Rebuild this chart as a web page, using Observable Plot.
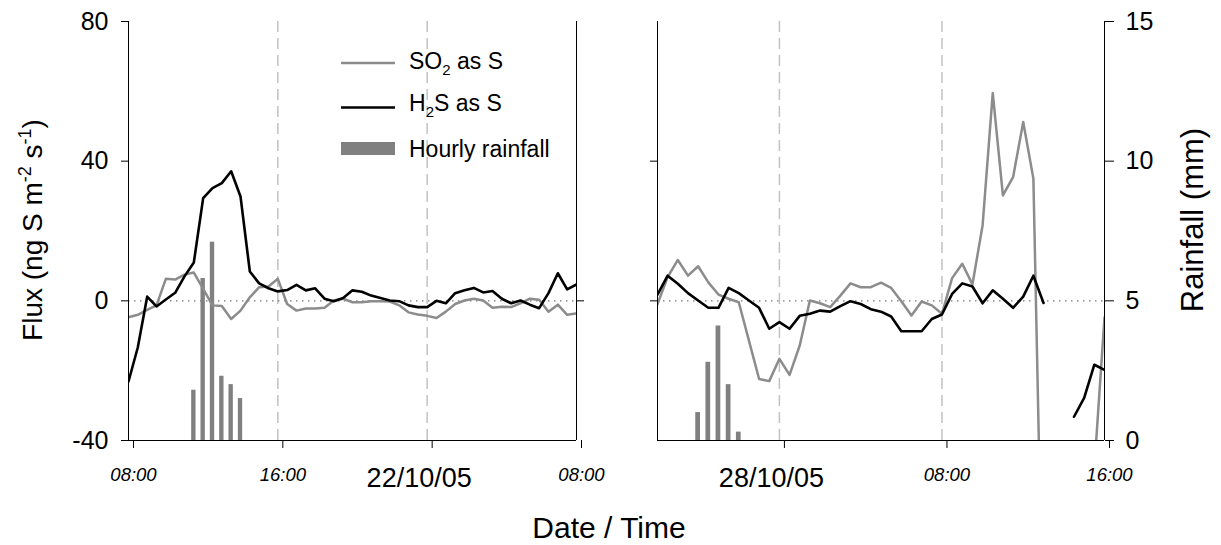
<!DOCTYPE html>
<html><head><meta charset="utf-8">
<script src="https://cdn.jsdelivr.net/npm/d3@7"></script>
<script src="https://cdn.jsdelivr.net/npm/@observablehq/plot@0.6"></script>
<style>
html,body{margin:0;padding:0;background:#fff;}
#chart{position:relative;width:1221px;height:545px;overflow:hidden;font-family:"Liberation Sans",Arial,sans-serif;}
#chart > svg{position:absolute;top:0;}
</style></head><body><div id="chart"></div>
<script>
// ---------- data (half-hourly fluxes, ng S m-2 s-1) ----------
const leftStart = "2005-10-21T08:00Z";
const so2Left = [-4.7,-4.0,-2.6,-1.3,6.3,6.1,7.5,8.1,3.4,-1.3,-1.5,-5.2,-2.8,1.0,3.9,4.1,6.3,-0.9,-2.8,-2.2,-2.2,-2.0,0.1,0.6,-0.4,-0.4,-0.1,-0.1,-0.2,-1.3,-3.3,-3.9,-4.3,-4.9,-3.1,-0.9,0.1,0.6,0.1,-2.0,-1.7,-1.8,-0.7,0.6,0.3,-3.1,-1.1,-4.0,-3.6];
const h2sLeft = [-23.1,-13.3,1.2,-1.6,0.4,2.3,7.0,11.0,29.4,32.3,33.7,37.1,29.9,8.4,5.0,3.6,2.7,3.1,4.6,3.0,3.6,0.6,-0.1,0.8,3.0,2.6,1.5,0.8,0.1,-0.1,-1.3,-1.8,-1.8,0.0,-0.7,2.2,3.0,3.7,2.4,2.8,0.6,-0.7,0.1,-1.1,-2.1,2.2,7.9,3.3,4.7];
const rainLeftTimes = ["2005-10-21T11:30Z","2005-10-21T12:00Z","2005-10-21T12:30Z","2005-10-21T13:00Z","2005-10-21T13:30Z","2005-10-21T14:00Z"];
const rainLeftMm = [1.8,5.8,7.1,2.3,2.0,1.5];

const rightStart = "2005-10-27T18:00Z";
const so2Right = [-0.9,6.8,11.7,7.2,9.9,5.3,1.8,0.6,-0.4,-11.4,-22.4,-23.0,-16.6,-21.2,-12.8,0.1,-0.7,-1.8,1.5,5.0,3.9,3.9,5.2,3.7,-0.1,-4.2,-0.2,-1.3,-3.7,6.5,10.6,4.7,21.6,59.5,30.2,35.4,51.2,35.0,-105,null,null,null,null,-48,-4.7];
const h2sRight = [1.8,7.2,4.9,2.2,0.1,-2.0,-2.0,3.7,2.2,0.1,-2.0,-8.0,-6.1,-8.0,-4.3,-3.7,-2.8,-3.1,-1.5,-0.1,-0.9,-2.4,-3.1,-4.5,-8.7,-8.7,-8.7,-5.2,-3.9,2.0,5.0,4.1,-0.7,3.0,0.6,-2.0,1.2,7.2,-0.6,null,null,-33.2,-27.8,-18.3,-19.8];
const rainRightTimes = ["2005-10-27T20:00Z","2005-10-27T20:30Z","2005-10-27T21:00Z","2005-10-27T21:30Z","2005-10-27T22:00Z"];
const rainRightMm = [1.0,2.8,4.1,2.0,0.3];

// ---------- axes / ticks ----------
const fluxTicks = [-40, 0, 40, 80];
const fluxTickLabels = ["-40", "0", "40", "80"];
const rainTicks = [0, 5, 10, 15];
const leftDomain = ["2005-10-21T08:00Z", "2005-10-22T08:00Z"];
const leftTicks = ["2005-10-21T08:00Z","2005-10-21T16:00Z","2005-10-22T00:00Z","2005-10-22T08:00Z"];
const leftTickLabels = ["08:00","16:00","","08:00"];
const leftDashed = ["2005-10-21T16:00Z","2005-10-22T00:00Z"];
const leftDate = "2005-10-22T00:00Z", leftDateLabel = "22/10/05";
const rightDomain = ["2005-10-27T18:00Z", "2005-10-28T16:00Z"];
const rightTicks = ["2005-10-28T00:00Z","2005-10-28T08:00Z","2005-10-28T16:00Z"];
const rightTickLabels = ["","08:00","16:00"];
const rightDashed = ["2005-10-28T00:00Z","2005-10-28T08:00Z"];
const rightDate = "2005-10-28T00:00Z", rightDateLabel = "28/10/05";

// rainfall (0–15 mm) shares the flux frame (-40–80)
const toFlux = mm => -40 + mm * 120 / 15;
const D = s => new Date(s);
const HALF = 30 * 60000;
const series = (start, vals) => vals.map((v, i) => ({t: new Date(D(start).getTime() + i * HALF), v}));
const rainData = (ts, mm) => ts.map((t, i) => ({t: D(t), mm: mm[i]}));

const FONT = '"Liberation Sans", Arial, sans-serif';

function setFont(svg, label, index, size, italic) {
  const g = svg.querySelectorAll(`g[aria-label="${label}"]`)[index];
  if (!g) return;
  g.setAttribute("font-size", size);
  g.style.fontSize = size + "px";
  if (italic) g.style.fontStyle = "italic";
  g.querySelectorAll("text").forEach(t => { t.style.fontSize = size + "px"; if (italic) t.style.fontStyle = "italic"; });
}

function panel(o) {
  const ticks = o.ticks.map(D);
  const lab = d => o.tickLabels[ticks.findIndex(t => +t === +d)];
  const dom = o.domain.map(D);
  const marks = [
    Plot.ruleX(o.dashed.map(D), {stroke: "#c2c2c2", strokeWidth: 1.5, strokeDasharray: "11,6"}),
    Plot.ruleY([0], {stroke: "#777", strokeWidth: 1.2, strokeDasharray: "1.5,4.5"}),
    Plot.rect(o.rain, {x1: d => new Date(+d.t - 7 * 60000), x2: d => new Date(+d.t + 7 * 60000),
      y1: () => toFlux(0), y2: d => toFlux(d.mm), fill: "#808080"}),
    Plot.line(o.so2, {x: "t", y: "v", stroke: "#8c8c8c", strokeWidth: 2.5, clip: true}),
    Plot.line(o.h2s, {x: "t", y: "v", stroke: "#000", strokeWidth: 2.6, clip: true}),
    Plot.ruleX(dom, {stroke: "#000"}),
    Plot.ruleY([-40], {stroke: "#000"}),
    Plot.axisX({ticks, tickSize: 8, tickPadding: 19, fontSize: 18.5, fontStyle: "italic", dx: 5, tickFormat: lab, label: null}),
    Plot.axisX({ticks: [D(o.dateTick)], tickSize: 0, tickPadding: 27, fontSize: 27, dx: -8, tickFormat: () => o.dateLabel, label: null}),
    ...o.yAxes
  ];
  const svg = Plot.plot({
    width: o.width, height: 545,
    marginLeft: o.marginLeft, marginRight: o.marginRight, marginTop: 21, marginBottom: 105,
    x: {type: "utc", domain: dom},
    y: {domain: [-40, 80]},
    style: {fontFamily: FONT, background: "transparent", overflow: "visible", color: "#000"},
    marks
  });
  setFont(svg, "x-axis tick label", 0, 18.5, true);
  setFont(svg, "x-axis tick label", 1, 27, false);
  o.yFonts.forEach(([i, s]) => setFont(svg, "y-axis tick label", i, s, false));
  return svg;
}

const left = panel({
  width: 600, marginLeft: 128, marginRight: 24, domain: leftDomain,
  so2: series(leftStart, so2Left), h2s: series(leftStart, h2sLeft), rain: rainData(rainLeftTimes, rainLeftMm),
  ticks: leftTicks, tickLabels: leftTickLabels, dashed: leftDashed, dateTick: leftDate, dateLabel: leftDateLabel,
  yAxes: [
    Plot.axisY({anchor: "left", ticks: fluxTicks, tickSize: 7, tickPadding: 13, fontSize: 25,
      tickFormat: v => fluxTickLabels[fluxTicks.indexOf(v)], label: null}),
    Plot.axisY({anchor: "right", ticks: [0], tickSize: 7, tickFormat: () => "", label: null})
  ],
  yFonts: [[0, 25]]
});
left.style.left = "0px";

const rainTickFlux = rainTicks.map(toFlux);
const right = panel({
  width: 621, marginLeft: 57, marginRight: 117, domain: rightDomain,
  so2: series(rightStart, so2Right), h2s: series(rightStart, h2sRight), rain: rainData(rainRightTimes, rainRightMm),
  ticks: rightTicks, tickLabels: rightTickLabels, dashed: rightDashed, dateTick: rightDate, dateLabel: rightDateLabel,
  yAxes: [
    Plot.axisY({anchor: "left", ticks: [0, 40], tickSize: 7, tickFormat: () => "", label: null}),
    Plot.axisY({anchor: "right", ticks: rainTickFlux, tickSize: 9, tickPadding: 12, fontSize: 25,
      tickFormat: v => String(rainTicks[rainTickFlux.indexOf(v)]), label: null})
  ],
  yFonts: [[1, 25]]
});
right.style.left = "600px";

const chart = document.getElementById("chart");
chart.append(left, right);

// titles and legend
const ns = "http://www.w3.org/2000/svg";
const ov = document.createElementNS(ns, "svg");
ov.setAttribute("width", 1221); ov.setAttribute("height", 545);
ov.style.left = "0px"; ov.style.fontFamily = FONT; ov.style.pointerEvents = "none";
ov.innerHTML = `
<text transform="translate(42,230) rotate(-90)" text-anchor="middle" font-size="28" fill="#000">Flux (ng S m<tspan dy="-11" font-size="18">-2</tspan><tspan dy="11"> s</tspan><tspan dy="-11" font-size="18">-1</tspan><tspan dy="11">)</tspan></text>
<text transform="translate(1203,220) rotate(-90)" text-anchor="middle" font-size="31" fill="#000">Rainfall (mm)</text>
<text x="609" y="538" text-anchor="middle" font-size="30" fill="#000">Date / Time</text>
<g font-size="23" fill="#000">
  <line x1="341" x2="395" y1="63" y2="63" stroke="#8c8c8c" stroke-width="2.5"/>
  <text x="409" y="68.5">SO<tspan dy="6" font-size="15">2</tspan><tspan dy="-6"> as S</tspan></text>
  <line x1="341" x2="395" y1="107.5" y2="107.5" stroke="#000" stroke-width="2.5"/>
  <text x="409" y="111">H<tspan dy="6" font-size="15">2</tspan><tspan dy="-6">S as S</tspan></text>
  <rect x="341" y="142" width="54" height="13" fill="#808080"/>
  <text x="409" y="156.5">Hourly rainfall</text>
</g>`;
chart.append(ov);
</script></body></html>
